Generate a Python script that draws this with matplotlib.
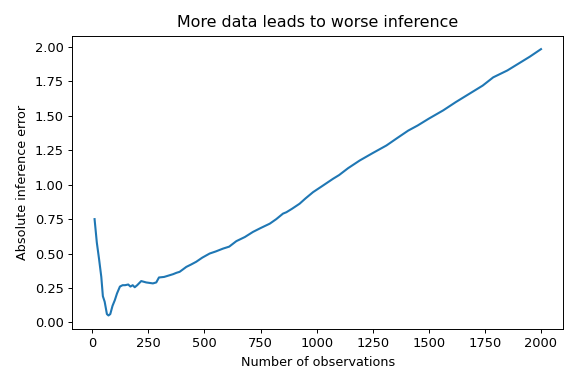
import matplotlib
matplotlib.use("Agg")
from matplotlib import pyplot as plt

# values
n_obs = [10, 20, 30, 40, 47, 55, 65, 72, 80, 90, 100, 110, 123, 135, 146, 160, 170, 180,
         189, 200, 218, 240, 270, 285, 297, 320, 340, 360, 375, 389, 400, 419, 440, 463,
         490, 523, 550, 583, 610, 642, 680, 716, 750, 791, 820, 850, 865, 890, 924, 950,
         984, 1020, 1073, 1100, 1140, 1192, 1250, 1311, 1360, 1408, 1450, 1500, 1564,
         1620, 1680, 1740, 1787, 1850, 1900, 1950, 2000]
abs_error = [0.75, 0.58, 0.46, 0.33, 0.19, 0.15, 0.06, 0.05, 0.06, 0.12, 0.16, 0.21, 0.26,
             0.27, 0.27, 0.275, 0.26, 0.27, 0.255, 0.27, 0.30, 0.29, 0.283, 0.29, 0.326,
             0.33, 0.34, 0.35, 0.36, 0.367, 0.38, 0.403, 0.42, 0.44, 0.47, 0.50, 0.515,
             0.536, 0.55, 0.59, 0.62, 0.657, 0.685, 0.717, 0.75, 0.79, 0.80, 0.825, 0.862,
             0.90, 0.946, 0.985, 1.043, 1.07, 1.12, 1.176, 1.23, 1.285, 1.34, 1.393, 1.43,
             1.48, 1.54, 1.60, 1.66, 1.72, 1.78, 1.83, 1.88, 1.93, 1.985]

# the reference looks like a default figure scaled down a bit
s = 0.87
plt.rcParams['font.size'] = 9.2
plt.rcParams['lines.linewidth'] = 1.5
plt.rcParams['axes.linewidth'] = 0.8 * s
for ax_name in ('xtick', 'ytick'):
    plt.rcParams[ax_name + '.labelsize'] = 9.4
    plt.rcParams[ax_name + '.major.size'] = 3.5 * s
    plt.rcParams[ax_name + '.major.width'] = 0.8 * s
    plt.rcParams[ax_name + '.major.pad'] = 3.5 * s

fig = plt.figure(figsize=(5.78, 3.85), dpi=100)
plt.plot(n_obs, abs_error)
plt.title("More data leads to worse inference", fontsize=11.4)
plt.xlabel("Number of observations")
plt.ylabel("Absolute inference error")
plt.subplots_adjust(left=0.125, right=0.9746, top=0.907, bottom=0.146)
plt.savefig("out.png", dpi=100)
